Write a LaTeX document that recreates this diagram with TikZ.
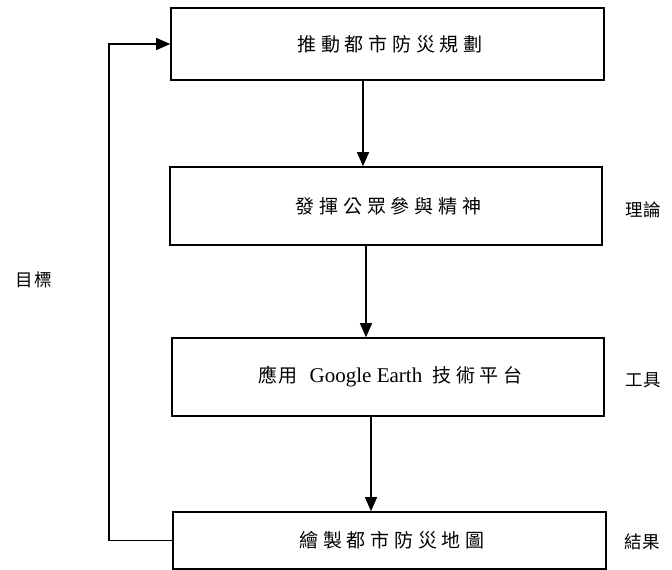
\documentclass[tikz,border=0pt]{standalone}
\usepackage{fontspec}
\usetikzlibrary{arrows.meta}
\newfontfamily\cjk{Noto Sans CJK TC}
\newfontfamily\cjksp[LetterSpace=25]{Noto Sans CJK TC}
\newfontfamily\cjkss[LetterSpace=8]{Noto Sans CJK TC}
\newfontfamily\latinserif{Liberation Serif}
\begin{document}
\begin{tikzpicture}[x=1pt,y=-1pt,
  box/.style={draw=black,line width=1.6pt,fill=white,inner sep=0pt,align=center},
  boxfont/.style={font=\fontsize{19}{21}\selectfont\cjksp},
  arr/.style={line width=1.3pt,-{Triangle[width=12pt,length=14pt]}},
  side/.style={inner sep=0pt,font=\fontsize{17.5}{20}\selectfont\cjk}]
\path[use as bounding box,fill=white] (0,0) rectangle (672,570);
\node[box,boxfont,minimum width=433pt,minimum height=72pt] (b1) at (387.5,44) {推動都市防災規劃\hspace{-4.75pt}};
\node[box,boxfont,minimum width=432pt,minimum height=78pt] (b2) at (386,206) {發揮公眾參與精神\hspace{-4.75pt}};
\node[box,minimum width=432pt,minimum height=78pt,font=\fontsize{19}{21}\selectfont] (b3) at (388,377) {{\cjkss 應用}\hspace{12pt}{\fontsize{21}{22}\selectfont\latinserif Google Earth}\hspace{10pt}{\cjksp 技術平台}\hspace{-4.75pt}};
\node[box,boxfont,minimum width=433pt,minimum height=57pt] (b4) at (389.5,540.5) {繪製都市防災地圖\hspace{-4.75pt}};
\node[side] (l1) at (643,210) {理論};
\node[side] (l2) at (643,380) {工具};
\node[side] (l3) at (642,542) {結果};
\node[side,font=\fontsize{17.5}{20}\selectfont\cjkss] (l4) at (34,280) {目標};
\coordinate (a1) at (363,0);
\coordinate (a2) at (366,0);
\coordinate (a3) at (371,0);
\coordinate (fb) at (109,0);
\draw[arr] (b1.south -| a1) -- (b2.north -| a1);
\draw[arr] (b2.south -| a2) -- (b3.north -| a2);
\draw[arr] (b3.south -| a3) -- (b4.north -| a3);
\draw[arr] (b4.west) -- (b4.west -| fb) -- (b1.west -| fb) -- (b1.west);
\end{tikzpicture}
\end{document}
